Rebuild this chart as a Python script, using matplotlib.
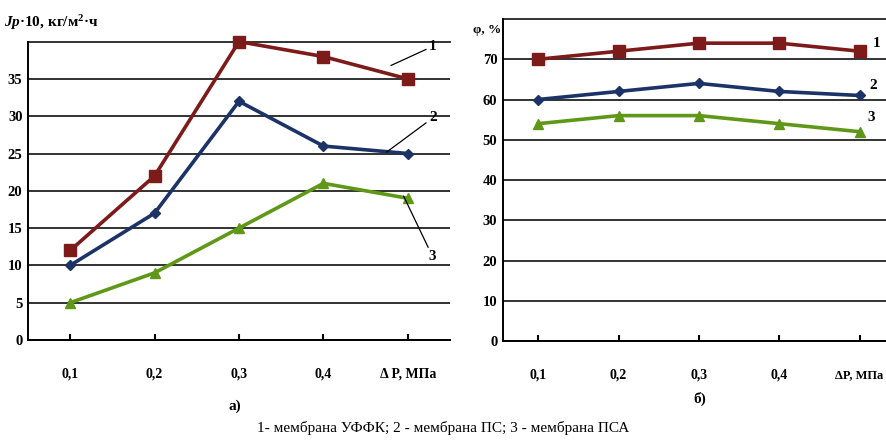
import matplotlib.pyplot as plt

plt.rcParams['font.family'] = ['Liberation Serif', 'DejaVu Serif']
plt.rcParams['font.weight'] = 'bold'
plt.rcParams['mathtext.fontset'] = 'custom'
plt.rcParams['mathtext.it'] = 'Liberation Serif:italic:bold'
plt.rcParams['mathtext.rm'] = 'Liberation Serif:bold'

x_labels_a = ['0,1', '0,2', '0,3', '0,4', 'Δ P, МПа']
x_labels_b = ['0,1', '0,2', '0,3', '0,4', 'ΔP, МПа']

# а) flux Jp*10, kg/m2*h
flux_1 = [12, 22, 40, 38, 35]
flux_2 = [10, 17, 32, 26, 25]
flux_3 = [5, 9, 15, 21, 19]

# б) retention, %
ret_1 = [70, 72, 74, 74, 72]
ret_2 = [60, 62, 64, 62, 61]
ret_3 = [54, 56, 56, 54, 52]

colors = ['#7d1a1a', '#1b3366', '#5f9818']
markers = ['s', 'D', '^']
msizes = [8, 5, 7]


def style_axes(ax, ticks, labels):
    for s in ['top', 'right']:
        ax.spines[s].set_visible(False)
    ax.spines['left'].set_linewidth(1.4)
    ax.spines['bottom'].set_linewidth(1.4)
    ax.yaxis.grid(True, color='#222222', linewidth=1.3)
    ax.set_axisbelow(True)
    ax.set_xticks(range(5))
    ax.set_xticklabels(labels, fontsize=10, fontweight='bold')
    ax.tick_params(axis='x', length=4, width=1.5, pad=20, direction='in')
    ax.tick_params(axis='y', length=0, pad=4, labelsize=10.5)
    ax.set_yticks(ticks)
    ax.set_yticklabels([str(t) for t in ticks], fontweight='bold')


fig = plt.figure(figsize=(8.86, 4.42), dpi=100)

ax1 = fig.add_axes([0.0316, 0.2308, 0.4763, 0.675])
for i, ys in enumerate([flux_1, flux_2, flux_3]):
    ax1.plot(range(5), ys, color=colors[i], marker=markers[i], ms=msizes[i],
             lw=2.6, mec=colors[i], clip_on=False, zorder=3)
ax1.set_xlim(-0.5, 4.5)
ax1.set_ylim(0, 40)
style_axes(ax1, range(0, 40, 5), x_labels_a)
ax1.axhline(40, color='#222222', lw=1.3, clip_on=False)

# leader lines and curve numbers
ax1.annotate('1', xy=(3.8, 36.8), xytext=(4.25, 38.9), fontsize=11,
             arrowprops=dict(arrowstyle='-', color='black', lw=0.9, shrinkA=0, shrinkB=0))
ax1.annotate('2', xy=(3.75, 25.2), xytext=(4.25, 29.3), fontsize=11,
             arrowprops=dict(arrowstyle='-', color='black', lw=0.9, shrinkA=0, shrinkB=0))
ax1.annotate('3', xy=(3.95, 19.3), xytext=(4.25, 10.7), fontsize=11,
             arrowprops=dict(arrowstyle='-', color='black', lw=0.9, shrinkA=0, shrinkB=0))
fig.text(0.004, 0.948, '$Jp$·10, кг/м$^2$·ч', fontsize=11, ha='left', va='center')

ax2 = fig.add_axes([0.5677, 0.2285, 0.4323, 0.7285])
for i, ys in enumerate([ret_1, ret_2, ret_3]):
    ax2.plot(range(5), ys, color=colors[i], marker=markers[i], ms=msizes[i],
             lw=2.6, mec=colors[i], zorder=3)
ax2.set_xlim(-0.44, 4.33)
ax2.set_ylim(0, 80)
style_axes(ax2, range(0, 80, 10), x_labels_b)
ax2.get_xticklabels()[-1].set_fontsize(9)
ax2.axhline(80, color='#222222', lw=1.3, clip_on=False)
ax2.text(4.16, 74, '1', fontsize=11, va='center')
ax2.text(4.12, 63.5, '2', fontsize=11, va='center')
ax2.text(4.1, 55.5, '3', fontsize=11, va='center')
fig.text(0.534, 0.932, 'φ, %', fontsize=9.5, ha='left', va='center')

fig.text(0.265, 0.072, 'а)', fontsize=11, ha='center')
fig.text(0.79, 0.088, 'б)', fontsize=11, ha='center')
fig.text(0.5, 0.022, '1- мембрана УФФК; 2 - мембрана ПС; 3 - мембрана ПСА',
         fontsize=11, ha='center', fontweight='normal')

fig.savefig('out.png', dpi=100)
